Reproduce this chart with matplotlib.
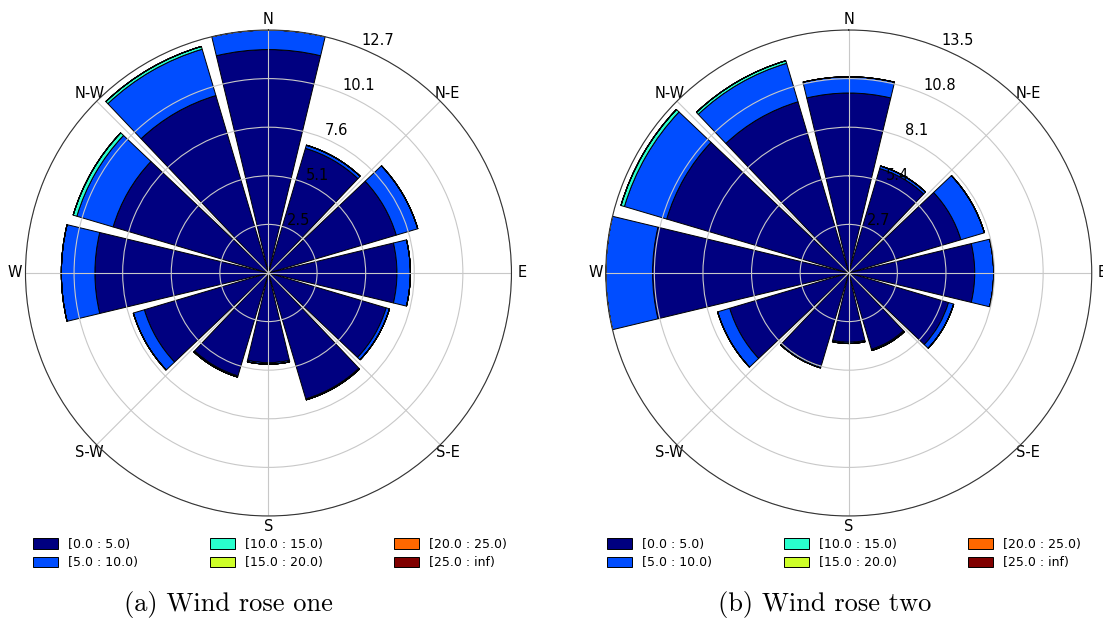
import matplotlib.pyplot as plt
import numpy as np

# 12 direction sectors, degrees clockwise from north
directions = np.arange(0, 360, 30)
compass = ['N', 'N-E', 'E', 'S-E', 'S', 'S-W', 'W', 'N-W']
bin_labels = ['[0.0 : 5.0)', '[5.0 : 10.0)', '[10.0 : 15.0)',
              '[15.0 : 20.0)', '[20.0 : 25.0)', '[25.0 : inf)']

# wind rose one, frequency (%) per speed bin
one_0_5 = [11.65, 6.78, 6.95, 6.70, 6.40, 6.85, 4.68, 5.60, 6.75, 9.05, 8.45, 9.65]
one_5_10 = [1.02, 0.17, 1.17, 0.70, 0.18, 0.05, 0.08, 0.06, 0.60, 1.75, 1.97, 2.52]
one_10_15 = [0, 0, 0, 0, 0, 0, 0, 0, 0, 0, 0.20, 0.15]
one_15_20 = [0] * 12
one_20_25 = [0] * 12
one_25_inf = [0] * 12

# wind rose two
two_0_5 = [10.00, 6.05, 6.50, 7.00, 5.78, 4.42, 3.85, 5.40, 6.90, 10.90, 10.55, 9.92]
two_5_10 = [0.90, 0.15, 1.36, 1.05, 0.30, 0.07, 0.07, 0.10, 0.70, 2.60, 2.45, 2.23]
two_10_15 = [0, 0, 0, 0, 0, 0, 0, 0, 0, 0, 0.20, 0.15]
two_15_20 = [0] * 12
two_20_25 = [0] * 12
two_25_inf = [0] * 12

rose_one = [one_0_5, one_5_10, one_10_15, one_15_20, one_20_25, one_25_inf]
rose_two = [two_0_5, two_5_10, two_10_15, two_15_20, two_20_25, two_25_inf]

colors = plt.cm.jet(np.linspace(0, 1, len(bin_labels)))


def draw_rose(ax, table):
    ax.set_theta_zero_location('N')
    ax.set_theta_direction(-1)
    theta = np.radians(directions)
    width = np.radians(360 / len(directions)) * 0.9
    bottom = np.zeros(len(directions))
    for vals, color, label in zip(table, colors, bin_labels):
        vals = np.array(vals, dtype=float)
        ax.bar(theta, vals, width=width, bottom=bottom, color=color,
               edgecolor='black', linewidth=0.7, label=label)
        bottom += vals
    rmax = bottom.max()
    ax.set_ylim(0, rmax)
    ticks = np.linspace(0, rmax, 6)[1:]
    ax.set_yticks(ticks)
    ax.set_yticklabels(['%.1f' % t for t in ticks], fontsize=10.5)
    ax.set_xticks(np.radians(np.arange(0, 360, 45)))
    ax.set_xticklabels(compass, fontsize=10.5)
    ax.tick_params(axis='x', pad=-3)
    ax.grid(color='#c8c8c8', linewidth=0.8)
    ax.spines['polar'].set_linewidth(0.8)
    ax.spines['polar'].set_color('#333333')


fig = plt.figure(figsize=(11.03, 6.21), dpi=100)
ax1 = fig.add_axes([0.0231, 0.1691, 0.4406, 0.7826], projection='polar')
ax2 = fig.add_axes([0.5492, 0.1691, 0.4406, 0.7826], projection='polar')

draw_rose(ax1, rose_one)
draw_rose(ax2, rose_two)

for ax, cx in [(ax1, 270 / 1103), (ax2, 844 / 1103)]:
    ax.legend(loc='center', bbox_to_anchor=(cx, 1 - 553.5 / 621),
              bbox_transform=fig.transFigure, ncol=3, frameon=False,
              fontsize=9, handlelength=2.0, handleheight=0.9,
              handletextpad=0.8, columnspacing=5.7, labelspacing=0.45)

fig.text(228 / 1103, 1 - 605 / 621, '(a) Wind rose one', family='cmr10',
         fontsize=19, ha='center', va='center')
fig.text(825 / 1103, 1 - 605 / 621, '(b) Wind rose two', family='cmr10',
         fontsize=19, ha='center', va='center')

fig.savefig('out.png', dpi=100)
